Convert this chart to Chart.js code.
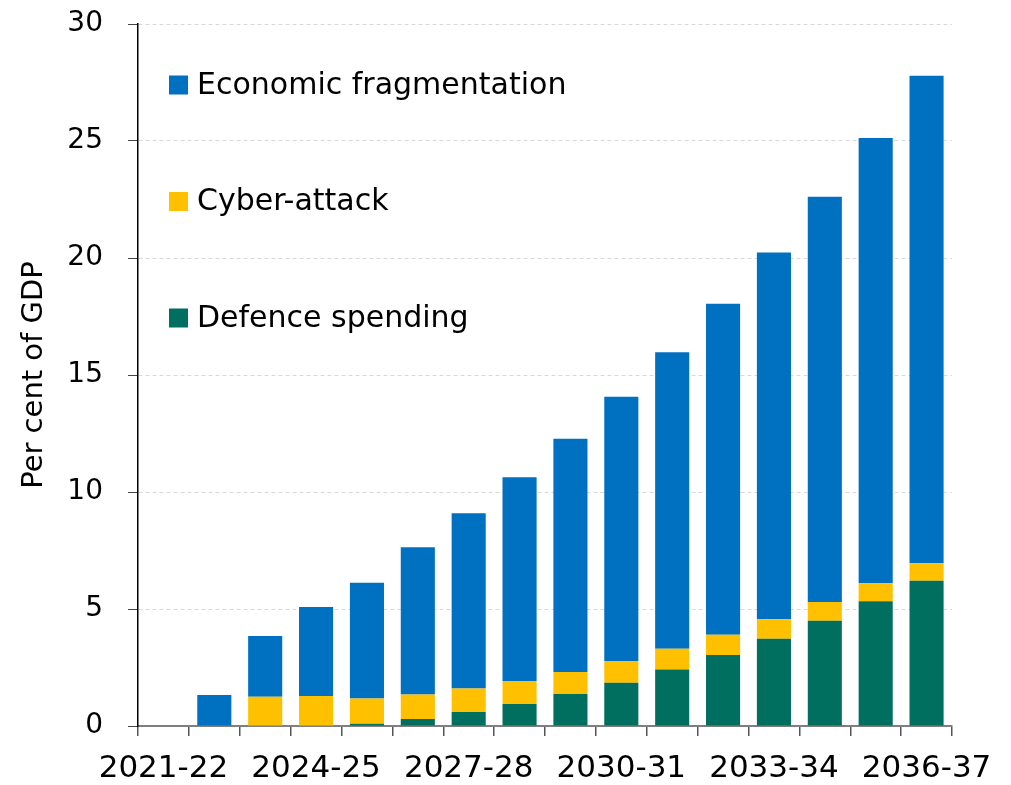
<!DOCTYPE html>
<html>
<head>
<meta charset="utf-8">
<script src="https://cdn.jsdelivr.net/npm/chart.js@4/dist/chart.umd.min.js"></script>
<style>
  html, body { margin: 0; padding: 0; background: #ffffff; }
  #wrap { position: relative; width: 1011px; height: 785px; }
</style>
</head>
<body>
<div id="wrap"><canvas id="c" width="1011" height="785"></canvas></div>
<script>
const categories = ["2021-22","2022-23","2023-24","2024-25","2025-26","2026-27","2027-28","2028-29","2029-30","2030-31","2031-32","2032-33","2033-34","2034-35","2035-36","2036-37"];
const defenceSpending = [0, 0, 0, 0, 0.10, 0.30, 0.60, 0.94, 1.37, 1.85, 2.41, 3.03, 3.73, 4.50, 5.33, 6.21];
const cyberAttack = [0, 0, 1.25, 1.28, 1.07, 1.05, 1.00, 0.98, 0.94, 0.93, 0.89, 0.87, 0.83, 0.80, 0.77, 0.74];
const economicFragmentation = [0, 1.32, 2.60, 3.81, 4.95, 6.29, 7.49, 8.71, 9.97, 11.29, 12.67, 14.15, 15.68, 17.32, 19.03, 20.84];
const yTicks = [0, 5, 10, 15, 20, 25, 30];
const seriesNames = ["Defence spending", "Cyber-attack", "Economic fragmentation"];
const seriesColors = ["#006F5F", "#FFC000", "#0070C0"];

const legendPlugin = {
  id: 'insideLegend',
  afterDraw(chart) {
    const ctx = chart.ctx;
    const ca = chart.chartArea;
    const ds = chart.data.datasets.slice().reverse();
    ctx.save();
    ctx.font = '30px "DejaVu Sans"';
    ctx.textBaseline = 'middle';
    ctx.textAlign = 'left';
    ds.forEach((d, i) => {
      const cy = ca.top + 61 + i * 116.5;
      ctx.fillStyle = d.backgroundColor;
      ctx.fillRect(ca.left + 31, cy - 9.5, 19, 19);
      ctx.fillStyle = '#000000';
      ctx.fillText(d.label, ca.left + 59, cy + 1);
    });
    ctx.restore();
  }
};

new Chart(document.getElementById('c'), {
  type: 'bar',
  data: {
    labels: categories,
    datasets: [
      { label: seriesNames[0], data: defenceSpending, backgroundColor: seriesColors[0], borderWidth: 0 },
      { label: seriesNames[1], data: cyberAttack, backgroundColor: seriesColors[1], borderWidth: 0 },
      { label: seriesNames[2], data: economicFragmentation, backgroundColor: seriesColors[2], borderWidth: 0 }
    ]
  },
  options: {
    responsive: false,
    animation: false,
    devicePixelRatio: 1,
    layout: { autoPadding: false, padding: { left: 12.6, right: 59, top: 24, bottom: 0 } },
    datasets: { bar: { barPercentage: 0.67, categoryPercentage: 1.0 } },
    plugins: {
      legend: { display: false },
      tooltip: { enabled: false }
    },
    scales: {
      x: {
        stacked: true,
        afterFit: (axis) => { axis.height = 59; },
        grid: { display: true, drawOnChartArea: false, drawTicks: true, tickLength: 10, offset: true, color: '#555555', tickColor: '#555555', lineWidth: 1.5 },
        border: { display: true, color: '#7f7f7f', width: 2 },
        ticks: {
          autoSkip: false, maxRotation: 0, minRotation: 0, padding: 14,
          color: '#000000',
          font: { family: '"DejaVu Sans"', size: 31 },
          callback: function(v, i) { return i % 3 === 0 ? categories[i] : ''; }
        }
      },
      y: {
        stacked: true,
        min: 0, max: 30,
        afterBuildTicks: (axis) => { axis.ticks = yTicks.map(v => ({ value: v })); },
        afterFit: (axis) => { axis.width = 125.4; axis.paddingTop = 0; axis.paddingBottom = 0; },
        grid: { display: true, drawOnChartArea: true, drawTicks: true, tickLength: 10, color: '#d9d9d9', tickColor: '#444444', lineWidth: 1 },
        border: { display: true, color: '#000000', width: 1.5, dash: [4, 3] },
        ticks: {
          padding: 25,
          color: '#000000',
          font: { family: '"DejaVu Sans"', size: 28 }
        },
        title: {
          display: true, text: 'Per cent of GDP', color: '#000000',
          font: { family: '"DejaVu Sans"', size: 29 },
          padding: { top: 4, bottom: 4 }
        }
      }
    }
  },
  plugins: [legendPlugin]
});
</script>
</body>
</html>
